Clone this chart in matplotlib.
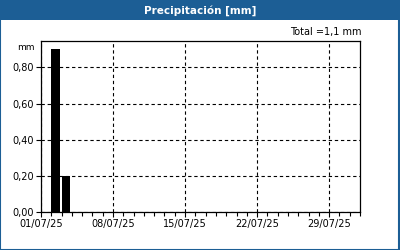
import datetime as dt
import matplotlib
matplotlib.use("Agg")
import matplotlib.pyplot as plt
import matplotlib.dates as mdates
from matplotlib.ticker import FuncFormatter, FixedLocator
from matplotlib.patches import Rectangle

dates = [dt.date(2025, 7, 2), dt.date(2025, 7, 3)]
rain_mm = [0.9, 0.2]
total_mm = "1,1"
title = "Precipitación [mm]"
x_major = [dt.date(2025, 7, d) for d in (1, 8, 15, 22, 29)]
y_ticks = [0.0, 0.2, 0.4, 0.6, 0.8]

header_blue = "#1c5e95"
plt.rcParams['font.family'] = ['DejaVu Sans']

fig = plt.figure(figsize=(4, 2.5), dpi=100)
fig.patch.set_facecolor("white")

# blue title bar and frame
fig.patches.append(Rectangle((0, 1 - 20 / 250), 1, 20 / 250, transform=fig.transFigure,
                             facecolor=header_blue, edgecolor="none", zorder=0))
fig.patches.append(Rectangle((0.001, 0.002), 0.997, 0.996, transform=fig.transFigure,
                             facecolor="none", edgecolor=header_blue, lw=1.5, zorder=1))
fig.text(0.5, 1 - 10.5 / 250, title, color="white", fontsize=7.5, fontweight="bold",
         ha="center", va="center")

ax = fig.add_axes([41 / 400, 1 - 212 / 250, (360 - 41) / 400, (212 - 41) / 250])
ax.bar(dates, rain_mm, width=0.8, align="edge", color="black", zorder=3)

ax.set_xlim(dt.date(2025, 7, 1), dt.date(2025, 8, 1))
ax.set_ylim(0, 0.946)

ax.xaxis.set_major_locator(FixedLocator(mdates.date2num(x_major)))
ax.xaxis.set_minor_locator(mdates.DayLocator())
ax.xaxis.set_major_formatter(mdates.DateFormatter("%d/%m/%y"))
ax.yaxis.set_major_locator(FixedLocator(y_ticks))
ax.yaxis.set_major_formatter(FuncFormatter(lambda v, p: f"{v:.2f}".replace(".", ",")))

ax.tick_params(axis="both", which="both", direction="out", labelsize=7, color="black",
               width=0.8, pad=1.5)
ax.tick_params(axis="both", which="major", length=3.5)
ax.tick_params(axis="x", which="minor", length=3)

ax.grid(True, which="major", color="black", linestyle=(0, (3, 2.5)), linewidth=0.8)
for s in ax.spines.values():
    s.set_linewidth(0.9)
    s.set_color("black")

fig.text(35 / 400, 1 - 47 / 250, "mm", fontsize=6.5, ha="right", va="center")
fig.text(362 / 400, 1 - 32 / 250, f"Total ={total_mm} mm", fontsize=7, ha="right", va="center")

fig.savefig("out.png", dpi=100, facecolor="white")
